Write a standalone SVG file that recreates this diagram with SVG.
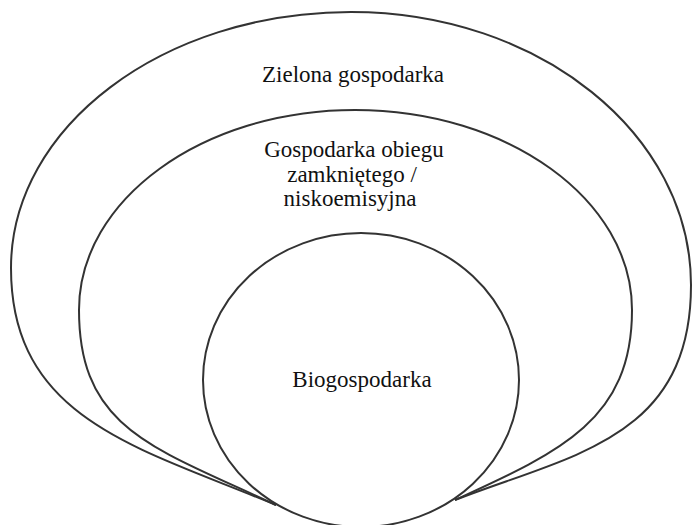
<svg xmlns="http://www.w3.org/2000/svg" width="692" height="525" viewBox="0 0 692 525">
<style>
.s{fill:none;stroke:#333;stroke-width:2}
.t{font-family:"Liberation Serif","Times New Roman",serif;font-size:23px;fill:#111;text-anchor:middle}
</style>
<rect width="692" height="525" fill="#fff"/>
<g id="zielona">
<path class="s" d="M276,505 C140,448 11,420 11,268 C11,127 163,12 351,12 C539,12 691,134 691,285 C691,440 570,455 455,500"/>
<text class="t" x="353" y="82">Zielona gospodarka</text>
</g>
<g id="obieg">
<path class="s" d="M276,505 C155,448 79,430 79,310 C79,200 202,110 355,110 C508,110 632,200 632,310 C632,420 560,452 455,500"/>
<text class="t" x="354" y="157">Gospodarka obiegu</text>
<text class="t" x="352" y="182">zamkniętego /</text>
<text class="t" x="350" y="206">niskoemisyjna</text>
</g>
<g id="bio">
<ellipse class="s" cx="361" cy="380" rx="158" ry="147"/>
<text class="t" x="362" y="387">Biogospodarka</text>
</g>
</svg>
